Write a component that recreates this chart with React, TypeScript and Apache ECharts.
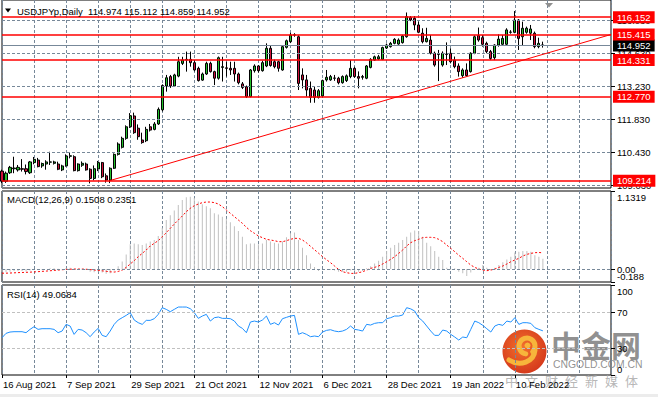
import React, { useEffect, useRef } from 'react';
import * as echarts from 'echarts';

const FONT = '"Liberation Sans", Arial, sans-serif';
const CJK = '"Noto Sans CJK SC", sans-serif';
const GRID_COLOR = '#778899';

const MONTHS = ['Jan', 'Feb', 'Mar', 'Apr', 'May', 'Jun', 'Jul', 'Aug', 'Sep', 'Oct', 'Nov', 'Dec'];
const SLOT_COUNT = 153;
function weekdayLabels(start: Date, n: number): string[] {
  const out: string[] = [];
  const d = new Date(start.getTime());
  while (out.length < n) {
    const wd = d.getUTCDay();
    if (wd !== 0 && wd !== 6) out.push(`${d.getUTCDate()} ${MONTHS[d.getUTCMonth()]} ${d.getUTCFullYear()}`);
    d.setUTCDate(d.getUTCDate() + 1);
  }
  return out;
}
const DATES = weekdayLabels(new Date(Date.UTC(2021, 7, 16)), SLOT_COUNT);

// [open, high, low, close]
const OHLC: number[][] = [
  [109.62, 109.68, 109.11, 109.19], [109.19, 109.60, 109.12, 109.53], [109.55, 109.84, 109.50, 109.78], [109.72, 110.23, 109.53, 109.75], [109.67, 109.88, 109.60, 109.78],
  [109.72, 110.13, 109.60, 109.70], [109.72, 109.90, 109.48, 109.60], [109.55, 110.05, 109.50, 110.01], [109.98, 110.22, 109.91, 110.12], [110.09, 110.18, 109.78, 109.81],
  [109.84, 109.98, 109.76, 109.94], [109.92, 110.08, 109.68, 110.01], [110.00, 110.44, 109.88, 110.01], [109.95, 110.06, 109.90, 110.01], [109.92, 110.02, 109.66, 109.70],
  [109.67, 109.89, 109.62, 109.84], [109.84, 110.33, 109.81, 110.26], [110.25, 110.42, 110.16, 110.27], [110.23, 110.29, 109.61, 109.64], [109.64, 109.95, 109.60, 109.92],
  [109.87, 110.03, 109.80, 109.95], [109.92, 109.98, 109.64, 109.67], [109.70, 109.74, 109.10, 109.31], [109.31, 109.86, 109.23, 109.72], [109.71, 110.05, 109.62, 109.98],
  [109.98, 110.01, 109.32, 109.38], [109.42, 109.52, 109.13, 109.24], [109.24, 109.78, 109.11, 109.74], [109.74, 110.37, 109.71, 110.33], [110.33, 110.84, 110.28, 110.77],
  [110.63, 111.08, 110.58, 111.01], [111.01, 111.56, 110.95, 111.50], [111.50, 112.08, 111.45, 111.97], [111.96, 112.10, 111.20, 111.25], [111.44, 111.60, 110.95, 111.08],
  [110.94, 111.25, 110.78, 110.83], [110.91, 111.50, 110.85, 111.39], [111.50, 111.62, 111.30, 111.36], [111.39, 111.70, 111.35, 111.62], [111.62, 112.32, 111.58, 112.24],
  [112.22, 113.30, 112.15, 113.25], [113.23, 113.70, 112.99, 113.58], [113.63, 113.70, 113.15, 113.23], [113.23, 113.75, 113.20, 113.70], [113.65, 114.47, 113.60, 114.26],
  [114.19, 114.47, 114.12, 114.33], [114.33, 114.69, 113.84, 114.36], [114.36, 114.69, 114.05, 114.22], [114.22, 114.33, 113.85, 113.91], [113.98, 114.05, 113.42, 113.46],
  [113.48, 113.80, 113.45, 113.74], [113.74, 114.26, 113.70, 114.19], [114.19, 114.26, 113.80, 113.84], [113.84, 113.88, 113.27, 113.56], [113.56, 114.48, 113.50, 114.43],
  [114.02, 114.47, 113.42, 114.05], [114.00, 114.26, 113.63, 113.98], [113.98, 114.26, 113.70, 113.91], [113.98, 114.26, 113.42, 113.74], [113.74, 113.80, 113.30, 113.37],
  [113.32, 113.40, 113.10, 113.17], [113.20, 113.25, 112.72, 112.78], [112.78, 113.95, 112.75, 113.91], [113.88, 114.15, 113.80, 114.08], [114.08, 114.12, 113.80, 113.88],
  [113.88, 114.30, 113.84, 114.22], [114.08, 115.04, 114.03, 114.83], [114.83, 114.95, 114.05, 114.10], [114.26, 114.35, 113.98, 114.05], [114.26, 114.30, 113.84, 113.98],
  [113.91, 114.95, 113.88, 114.90], [114.87, 115.20, 114.82, 115.15], [115.11, 115.49, 115.05, 115.39], [115.39, 115.47, 115.32, 115.40], [115.32, 115.38, 113.06, 113.34],
  [113.70, 113.98, 113.13, 113.49], [113.49, 113.70, 112.78, 113.06], [113.13, 113.42, 112.52, 112.75], [113.06, 113.20, 112.52, 112.75], [112.75, 113.10, 112.70, 113.03],
  [112.81, 113.50, 112.75, 113.46], [113.49, 113.91, 113.42, 113.60], [113.49, 113.70, 113.45, 113.63], [113.57, 113.70, 113.45, 113.56], [113.56, 113.62, 113.30, 113.37],
  [113.37, 113.68, 113.33, 113.63], [113.46, 113.72, 113.40, 113.66], [113.63, 114.33, 113.56, 113.98], [113.98, 114.05, 113.58, 113.63], [113.63, 113.85, 113.13, 113.56],
  [113.60, 113.70, 113.50, 113.63], [113.56, 114.12, 113.52, 114.08], [114.02, 114.41, 113.98, 114.36], [114.33, 114.52, 114.30, 114.47], [114.38, 114.55, 114.33, 114.47],
  [114.36, 114.90, 114.33, 114.86], [114.84, 115.03, 114.80, 114.97], [114.90, 115.10, 114.86, 115.04], [115.04, 115.26, 115.00, 115.21], [115.01, 115.25, 114.98, 115.18],
  [115.07, 115.40, 115.03, 115.35], [115.32, 116.35, 115.28, 116.17], [116.13, 116.20, 115.98, 116.03], [116.10, 116.20, 115.60, 115.82], [115.82, 115.96, 115.47, 115.51],
  [115.47, 115.68, 115.04, 115.11], [115.11, 115.70, 115.08, 115.25], [115.18, 115.39, 114.57, 114.62], [114.62, 114.69, 114.05, 114.12], [114.58, 114.76, 113.44, 114.57],
  [114.12, 114.70, 114.05, 114.62], [114.58, 115.08, 114.12, 114.57], [114.62, 114.83, 114.19, 114.26], [114.33, 114.48, 113.98, 114.05], [114.08, 114.19, 113.63, 113.84],
  [113.67, 113.98, 113.58, 113.91], [113.91, 114.19, 113.63, 113.67], [113.84, 114.66, 113.80, 114.62], [114.62, 115.38, 114.58, 115.32], [115.37, 115.71, 115.11, 115.18],
  [115.28, 115.39, 114.90, 115.00], [115.04, 115.11, 114.62, 114.69], [114.69, 114.76, 114.33, 114.40], [114.43, 115.00, 114.33, 114.97], [114.97, 115.42, 114.90, 115.22],
  [115.00, 115.39, 114.94, 115.25], [115.00, 115.68, 114.97, 115.61], [115.51, 115.60, 115.45, 115.52], [115.51, 116.41, 115.47, 116.03], [116.03, 116.07, 114.76, 115.25],
  [115.32, 115.96, 114.94, 115.68], [115.51, 115.75, 115.45, 115.68], [115.47, 115.82, 115.18, 115.65], [115.47, 115.54, 114.83, 114.90], [114.90, 115.28, 114.83, 115.04],
  [114.974, 115.112, 114.859, 114.952],
];

const MACD_HIST = [
  -0.04, -0.045, -0.04, -0.03, -0.03, -0.03, -0.035, -0.02, -0.01, -0.015,
  -0.01, 0.0, 0.01, 0.01, 0.005, 0.0, 0.015, 0.02, 0.005, 0.0,
  -0.005, -0.015, -0.04, -0.045, -0.035, -0.05, -0.07, -0.06, -0.02, 0.04,
  0.11, 0.21, 0.36, 0.37, 0.36, 0.35, 0.37, 0.40, 0.42, 0.48,
  0.60, 0.71, 0.78, 0.85, 0.93, 1.00, 1.04, 1.05, 1.03, 0.98,
  0.94, 0.91, 0.88, 0.81, 0.79, 0.76, 0.73, 0.68, 0.62, 0.55,
  0.47, 0.36, 0.37, 0.37, 0.36, 0.37, 0.42, 0.40, 0.38, 0.37,
  0.40, 0.46, 0.52, 0.53, 0.42, 0.31, 0.20, 0.08, 0.03, -0.03,
  -0.01, 0.0, -0.01, -0.02, -0.04, -0.04, -0.04, -0.02, -0.03, -0.04,
  -0.03, 0.01, 0.04, 0.08, 0.12, 0.18, 0.26, 0.31, 0.35, 0.38,
  0.42, 0.47, 0.53, 0.56, 0.55, 0.47, 0.38, 0.33, 0.26, 0.18,
  0.13, 0.02, -0.015, 0.01, -0.04, -0.06, -0.10, -0.05, -0.015, 0.02,
  0.06, 0.02, -0.015, 0.02, 0.06, 0.10, 0.14, 0.18, 0.24, 0.25,
  0.26, 0.26, 0.25, 0.20, 0.18, 0.1508,
];

const MACD_SIGNAL = [
  -0.06, -0.06, -0.058, -0.055, -0.052, -0.05, -0.048, -0.045, -0.042, -0.038,
  -0.034, -0.03, -0.025, -0.02, -0.015, -0.01, -0.006, -0.003, 0.0, 0.0,
  0.0, -0.003, -0.008, -0.014, -0.02, -0.026, -0.033, -0.04, -0.044, -0.035,
  -0.015, 0.024, 0.073, 0.121, 0.179, 0.227, 0.276, 0.334, 0.373, 0.411,
  0.469, 0.527, 0.590, 0.653, 0.711, 0.769, 0.832, 0.881, 0.919, 0.943,
  0.963, 0.972, 0.972, 0.963, 0.943, 0.905, 0.856, 0.808, 0.760, 0.711,
  0.663, 0.605, 0.556, 0.518, 0.479, 0.455, 0.431, 0.421, 0.411, 0.397,
  0.397, 0.411, 0.431, 0.445, 0.445, 0.421, 0.38, 0.33, 0.28, 0.23,
  0.18, 0.135, 0.092, 0.044, -0.005, -0.039, -0.053, -0.063, -0.063, -0.053,
  -0.039, -0.015, 0.01, 0.024, 0.044, 0.073, 0.106, 0.140, 0.179, 0.227,
  0.276, 0.334, 0.382, 0.411, 0.431, 0.455, 0.46, 0.46, 0.455, 0.431,
  0.397, 0.348, 0.30, 0.252, 0.20, 0.155, 0.106, 0.058, 0.024, 0.0,
  -0.015, -0.024, -0.015, 0.0, 0.024, 0.044, 0.073, 0.106, 0.131, 0.155,
  0.189, 0.213, 0.227, 0.237, 0.24, 0.2351,
];

const RSI = [
  41.44, 46.26, 47.74, 48.11, 48.11, 48.11, 47.0, 50.70, 53.67, 50.70,
  51.45, 51.45, 51.45, 50.70, 47.0, 48.85, 56.26, 54.41, 45.15, 50.70,
  49.96, 47.0, 42.56, 47.74, 51.81, 44.04, 42.56, 48.85, 56.26, 61.08,
  63.67, 66.26, 69.22, 61.08, 58.11, 56.26, 60.70, 60.70, 62.56, 67.37,
  74.78, 72.93, 70.34, 72.93, 75.52, 75.52, 75.52, 73.67, 69.22, 62.93,
  65.52, 67.37, 59.96, 63.67, 64.41, 62.93, 62.93, 62.56, 59.96, 54.41,
  51.81, 47.0, 58.85, 59.96, 58.85, 61.08, 65.52, 56.26, 58.11, 55.52,
  62.56, 64.04, 65.52, 66.26, 45.15, 47.0, 45.15, 42.56, 43.30, 42.56,
  47.74, 49.59, 50.3, 48.85, 48.11, 48.85, 50.70, 54.41, 50.70, 50.0,
  48.85, 56.26, 55.5, 57.37, 58.11, 58.11, 62.56, 63.67, 65.52, 65.52,
  66.63, 74.78, 73.5, 71.08, 63.67, 59.96, 54.41, 48.85, 44.04, 44.04,
  49.96, 48.85, 45.15, 42.19, 38.85, 42.19, 41.44, 50.70, 59.96, 58.11,
  55.15, 51.45, 47.74, 54.41, 56.26, 55.15, 59.96, 58.85, 63.67, 56.26,
  58.11, 58.11, 57.37, 52.56, 50.70, 49.0684,
];

const PRICE_MIN = 108.903;
const PRICE_MAX = 116.879;
const PRICE_TICKS = [109.03, 110.43, 111.83, 113.23, 114.63, 116.03];
const RED_LEVELS = [116.152, 115.415, 114.331, 112.77, 109.214];
const BID = 114.952;
const TREND_START = { idx: 27, price: 109.22 };
const TREND_END = { idx: 152, price: 115.415 };
const MACD_MIN = -0.188;
const MACD_MAX = 1.1319;
const RSI_MIN = 0;
const RSI_MAX = 100;
const MACD_TICKS = [MACD_MIN, 0, MACD_MAX];
const MACD_EDGE_LABELS = [MACD_MIN, MACD_MAX];
const RSI_TICKS = [RSI_MIN, 30, 70, RSI_MAX];
const RSI_LEVELS = [30, 70];
const LABEL_EVERY = 16;
const GRID_EVERY = 8;
const LAST_LABEL_IDX = 128;

function buildOption(): any {
  const last = OHLC[OHLC.length - 1];
  const title = `USDJPYp,Daily  ${last.map((v) => v.toFixed(3)).join(' ')}`;
  const macdTitle = `MACD(12,26,9) ${MACD_HIST[MACD_HIST.length - 1].toFixed(4)} ${MACD_SIGNAL[MACD_SIGNAL.length - 1].toFixed(4)}`;
  const rsiTitle = `RSI(14) ${RSI[RSI.length - 1].toFixed(4)}`;

  const gridBase = { left: 2, right: 47, show: true, borderColor: '#000', borderWidth: 1, backgroundColor: '#fff' };
  const xBase = (gi: number) => ({
    type: 'category', gridIndex: gi, data: DATES, boundaryGap: false,
    axisLine: { show: false }, axisTick: { show: false }, axisLabel: { show: false },
    splitLine: { show: true, interval: (i: number) => i % GRID_EVERY === 0, lineStyle: { color: GRID_COLOR, type: [3, 2], width: 1 } },
  });
  const yLabel = { color: '#000', fontSize: 9.5, fontFamily: FONT, margin: 6, showMinLabel: true, showMaxLabel: true, hideOverlap: false };
  const subLabel = { ...yLabel, lineHeight: 8, verticalAlignMinLabel: 'bottom', verticalAlignMaxLabel: 'top', padding: [2, 0, 2, 0] };
  const macdFmt = (v: number) => (Math.abs(v) < 1e-6 ? '0.00' : v < 0 ? v.toFixed(3) : v.toFixed(4));

  const boxLabel = (bg: string) => ({
    show: true, position: 'end', distance: 2, color: '#fff', backgroundColor: bg,
    padding: [1, 4, 1, 4], fontSize: 9.5, fontFamily: FONT, lineHeight: 10,
  });

  return {
    animation: false,
    backgroundColor: '#fff',
    grid: [
      { ...gridBase, top: 0, height: 188 },
      { ...gridBase, top: 191, height: 91 },
      { ...gridBase, top: 285, height: 90 },
    ],
    xAxis: [
      xBase(0),
      xBase(1),
      {
        ...xBase(2),
        axisTick: { show: true, length: 3, interval: (i: number) => i % LABEL_EVERY === 0 && i <= LAST_LABEL_IDX, lineStyle: { color: '#000' } },
        axisLabel: {
          show: true, interval: (i: number) => i % LABEL_EVERY === 0 && i <= LAST_LABEL_IDX,
          align: 'left', color: '#000', fontSize: 9.5, fontFamily: FONT, margin: 4, padding: [0, 0, 0, 1],
        },
      },
    ],
    yAxis: [
      {
        type: 'value', gridIndex: 0, position: 'right', min: PRICE_MIN, max: PRICE_MAX,
        axisLine: { show: false },
        axisTick: { show: true, length: 4, customValues: PRICE_TICKS, lineStyle: { color: '#000' } },
        axisLabel: { ...yLabel, customValues: PRICE_TICKS, formatter: (v: number) => v.toFixed(3) },
        splitLine: { show: false },
      },
      {
        type: 'value', gridIndex: 1, position: 'right', min: MACD_MIN, max: MACD_MAX,
        axisLine: { show: false },
        axisTick: { show: true, length: 4, customValues: MACD_TICKS, lineStyle: { color: '#000' } },
        axisLabel: { ...subLabel, customValues: MACD_EDGE_LABELS, formatter: macdFmt },
        splitLine: { show: false },
      },
      {
        type: 'value', gridIndex: 2, position: 'right', min: RSI_MIN, max: RSI_MAX,
        axisLine: { show: false },
        axisTick: { show: true, length: 4, customValues: RSI_TICKS, lineStyle: { color: '#000' } },
        axisLabel: { ...subLabel, customValues: RSI_TICKS, formatter: (v: number) => String(Math.round(v)) },
        splitLine: { show: false },
      },
    ],
    series: [
      {
        type: 'line', xAxisIndex: 0, yAxisIndex: 0, data: [], z: 1, silent: true,
        markLine: {
          silent: true, symbol: ['none', 'none'], animation: false, label: { show: false },
          lineStyle: { color: GRID_COLOR, type: [3, 2], width: 1 },
          data: PRICE_TICKS.map((v) => ({ yAxis: v })),
        },
      },
      {
        type: 'candlestick', xAxisIndex: 0, yAxisIndex: 0, z: 2, barWidth: 2.6,
        data: OHLC.map(([o, h, l, c]) => [o, c, l, h]),
        itemStyle: { color: '#22c12c', color0: '#d0103a', borderColor: '#000', borderColor0: '#000', borderWidth: 1 },
        markLine: {
          silent: true, symbol: ['none', 'none'], animation: false,
          data: [
            {
              yAxis: BID, lineStyle: { color: GRID_COLOR, type: 'solid', width: 1 },
              label: { ...boxLabel('#000'), formatter: BID.toFixed(3) },
            },
            ...RED_LEVELS.map((v) => ({
              yAxis: v, lineStyle: { color: '#ff0000', type: 'solid', width: 1.5 },
              label: { ...boxLabel('#ff0000'), formatter: v.toFixed(3) },
            })),
            [
              { coord: [DATES[TREND_START.idx], TREND_START.price], lineStyle: { color: '#ff0000', type: 'solid', width: 1 }, label: { show: false } },
              { coord: [DATES[TREND_END.idx], TREND_END.price] },
            ],
          ],
        },
      },
      {
        type: 'bar', xAxisIndex: 1, yAxisIndex: 1, data: MACD_HIST, barWidth: 1, z: 2,
        itemStyle: { color: '#c0c0c0' }, silent: true,
        markLine: {
          silent: true, symbol: ['none', 'none'], animation: false,
          lineStyle: { color: GRID_COLOR, type: [3, 2], width: 1 },
          data: [{
            yAxis: 0,
            label: { show: true, position: 'end', distance: 6, formatter: macdFmt(0), color: '#000', fontSize: 9.5, fontFamily: FONT },
          }],
        },
      },
      {
        type: 'line', xAxisIndex: 1, yAxisIndex: 1, data: MACD_SIGNAL, symbol: 'none', z: 3, silent: true,
        lineStyle: { color: '#ff0000', width: 1, type: [2, 2] },
      },
      {
        type: 'line', xAxisIndex: 2, yAxisIndex: 2, data: RSI, symbol: 'none', z: 3, silent: true,
        lineStyle: { color: '#1e90ff', width: 1 },
        markLine: {
          silent: true, symbol: ['none', 'none'], animation: false, label: { show: false },
          lineStyle: { color: '#c0c0c0', type: [3, 2], width: 1 },
          data: RSI_LEVELS.map((v) => ({ yAxis: v })),
        },
      },
    ],
    graphic: [
      { type: 'polygon', shape: { points: [[5, 8.5], [11, 8.5], [8, 12.5]] }, style: { fill: '#000' }, z: 10 },
      { type: 'text', x: 17, y: 11, style: { text: title, fill: '#000', fontSize: 9.5, fontFamily: FONT, verticalAlign: 'middle' }, z: 10 },
      { type: 'polygon', shape: { points: [[545, 3], [553, 3], [549, 7.5]] }, style: { fill: '#8f8f8f' }, z: 10 },
      { type: 'text', x: 7, y: 199, style: { text: macdTitle, fill: '#000', fontSize: 9.5, fontFamily: FONT, verticalAlign: 'middle' }, z: 10 },
      { type: 'text', x: 7, y: 294, style: { text: rsiTitle, fill: '#000', fontSize: 9.5, fontFamily: FONT, verticalAlign: 'middle' }, z: 10 },
      { type: 'rect', shape: { x: 0, y: 394, width: 658, height: 3 }, style: { fill: '#ececec' }, z: 10 },
      // watermark
      {
        type: 'group', z: 20, children: [
          {
            type: 'circle', shape: { cx: 524.5, cy: 351.5, r: 22 },
            style: {
              fill: new echarts.graphic.RadialGradient(0.45, 0.4, 0.65, [
                { offset: 0, color: '#f2702c' }, { offset: 1, color: '#d3361b' },
              ]),
            },
          },
          { type: 'arc', shape: { cx: 527, cy: 346, r: 8, startAngle: Math.PI * 0.55, endAngle: Math.PI * 2.25, clockwise: true }, style: { stroke: '#f7b53b', lineWidth: 5, fill: 'none', lineCap: 'round' } },
          { type: 'circle', shape: { cx: 527.5, cy: 345.5, r: 3 }, style: { fill: '#f7b53b' } },
          { type: 'bezierCurve', shape: { x1: 535, y1: 350, cpx1: 534, cpy1: 362, cpx2: 520, cpy2: 367, x2: 509, y2: 360 }, style: { stroke: '#f7b53b', lineWidth: 5, fill: 'none', lineCap: 'round' } },
          { type: 'text', x: 551, y: 344, style: { text: '中金网', fill: 'rgba(125,125,125,0.85)', fontSize: 30, fontWeight: 'bold', fontFamily: CJK, verticalAlign: 'middle' } },
          { type: 'text', x: 553, y: 364, style: { text: 'CNGOLD.COM.CN', fill: 'rgba(125,125,125,0.85)', fontSize: 10.4, fontFamily: FONT, verticalAlign: 'middle' } },
          ...['中', '文', '财', '经', '新', '媒', '体'].map((ch, k) => ({
            type: 'text', x: 505 + k * 20, y: 380,
            style: { text: ch, fill: 'rgba(170,170,170,0.85)', fontSize: 13, fontFamily: CJK, verticalAlign: 'middle' },
          })),
        ],
      },
    ],
  };
}

export default function App() {
  const ref = useRef<HTMLDivElement>(null);
  useEffect(() => {
    document.body.style.margin = '0';
    const chart = echarts.init(ref.current as HTMLDivElement, null, { renderer: 'svg' });
    chart.setOption(buildOption());
    return () => chart.dispose();
  }, []);
  return <div ref={ref} style={{ width: 658, height: 397, background: '#fff' }} />;
}
